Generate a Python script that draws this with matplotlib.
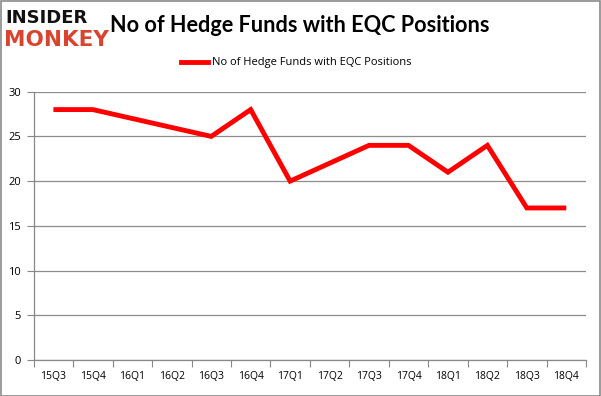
import matplotlib
matplotlib.use("Agg")
import matplotlib.pyplot as plt
from matplotlib.patches import Rectangle

quarters = ["15Q3", "15Q4", "16Q1", "16Q2", "16Q3", "16Q4", "17Q1",
            "17Q2", "17Q3", "17Q4", "18Q1", "18Q2", "18Q3", "18Q4"]
funds = [28, 28, 27, 26, 25, 28, 20, 22, 24, 24, 21, 24, 17, 17]
yticks = [0, 5, 10, 15, 20, 25, 30]
series_name = "No of Hedge Funds with EQC Positions"

W, H = 601, 396
fig = plt.figure(figsize=(W / 100, H / 100), dpi=100)
fig.patch.set_facecolor("white")
fig.patches.append(Rectangle((0.5 / W, 0.5 / H), 1 - 1.5 / W, 1 - 1.5 / H,
                             transform=fig.transFigure, fill=False,
                             edgecolor="#8a8a8a", linewidth=1.2))

left, right = 33.7 / W, 586 / W
top, bottom = 1 - 91.7 / H, 1 - 360 / H
ax = fig.add_axes([left, bottom, right - left, top - bottom])

x = list(range(len(quarters)))
ax.plot(x, funds, color="#ff0000", linewidth=3.5, solid_capstyle="butt",
        solid_joinstyle="miter", label=series_name, zorder=3)

ax.set_xlim(-0.5, len(quarters) - 0.5)
ax.set_ylim(0, 30)
ax.set_yticks(yticks)
ax.set_yticklabels([str(v) for v in yticks], fontsize=8, family="Open Sans")
ax.set_xticks(x)
ax.set_xticklabels(quarters, fontsize=7.5, family="Open Sans")
ax.tick_params(axis="x", length=0, pad=8)
ax.set_xticks([i - 0.5 for i in range(len(quarters) + 1)], minor=True)
ax.tick_params(axis="x", which="minor", length=5, color="#888888", width=0.8)
ax.tick_params(axis="y", length=5, color="#888888", width=0.8, pad=4)
ax.grid(axis="y", color="#8c8c8c", linewidth=0.9)
ax.set_axisbelow(True)
for s in ["top", "right"]:
    ax.spines[s].set_visible(False)
for s in ["left", "bottom"]:
    ax.spines[s].set_color("#888888")
    ax.spines[s].set_linewidth(0.9)

# Title
fig.text(300 / W, 1 - 25 / H, series_name, ha="center", va="center",
         fontsize=15.6, fontweight="bold", family="Lato")

# Logo
fig.text(5 / W, 1 - 18 / H, "INSIDER", ha="left", va="center", fontsize=13,
         fontweight="black", family="DejaVu Sans", color="#111111")
fig.text(4 / W, 1 - 40 / H, "MONKEY", ha="left", va="center", fontsize=15.5,
         fontweight="black", family="DejaVu Sans", color="#d9442e")

# Legend
lx0, lx1, ly = 181 / W, 208 / W, 1 - 62 / H
fig.lines.append(plt.Line2D([lx0, lx1], [ly, ly], transform=fig.transFigure,
                            color="#ff0000", linewidth=3.5))
fig.text(212 / W, ly, series_name, ha="left", va="center", fontsize=8,
         family="Open Sans")

fig.savefig("out.png", dpi=100, facecolor="white")
